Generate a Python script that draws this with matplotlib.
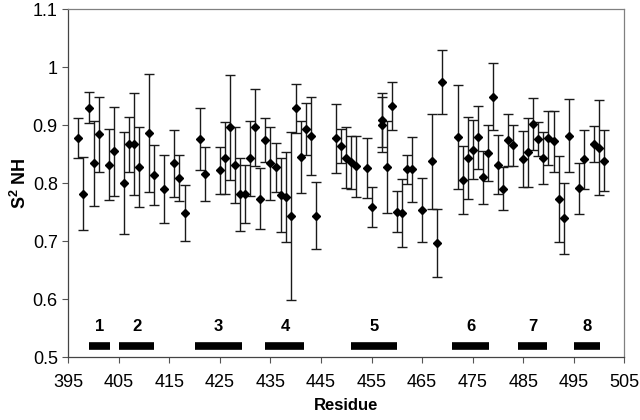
import numpy as np
import matplotlib
matplotlib.use("Agg")
import matplotlib.pyplot as plt

plt.rcParams['font.family'] = ['Liberation Sans', 'DejaVu Sans']
plt.rcParams['mathtext.fontset'] = 'custom'
plt.rcParams['mathtext.bf'] = 'Liberation Sans:bold'
plt.rcParams['mathtext.rm'] = 'Liberation Sans'

# residue numbers, S2 values and error half-widths
residue = [397, 398, 399, 400, 401, 403, 404, 406, 407, 408, 409, 411, 412, 414,
           416, 417, 418, 421, 422, 425, 426, 427, 428, 429, 430, 431, 432, 433,
           434, 435, 436, 437, 438, 439, 440, 441, 442, 443, 444, 448, 449, 450,
           451, 452, 454, 455, 457, 457, 458, 459, 460, 461, 462, 463, 465, 467,
           468, 469, 472, 473, 474, 475, 476, 477, 478, 479, 480, 481, 482, 483,
           485, 486, 487, 488, 489, 490, 491, 492, 493, 494, 496, 497, 499, 500,
           501]
s2 = [0.878, 0.782, 0.930, 0.834, 0.884, 0.832, 0.855, 0.801, 0.867, 0.867,
      0.828, 0.887, 0.814, 0.790, 0.834, 0.809, 0.749, 0.876, 0.816, 0.822,
      0.844, 0.896, 0.831, 0.781, 0.781, 0.843, 0.896, 0.773, 0.874, 0.834,
      0.827, 0.779, 0.776, 0.743, 0.929, 0.845, 0.893, 0.881, 0.744, 0.877,
      0.864, 0.844, 0.836, 0.829, 0.826, 0.759, 0.909, 0.901, 0.828, 0.933,
      0.751, 0.748, 0.824, 0.824, 0.754, 0.838, 0.697, 0.975, 0.879, 0.805,
      0.843, 0.858, 0.879, 0.810, 0.852, 0.949, 0.832, 0.790, 0.875, 0.865,
      0.842, 0.853, 0.902, 0.876, 0.843, 0.878, 0.872, 0.773, 0.739, 0.882,
      0.791, 0.841, 0.867, 0.861, 0.839]
err = [0.035, 0.063, 0.027, 0.073, 0.065, 0.061, 0.077, 0.088, 0.047, 0.088,
       0.069, 0.102, 0.052, 0.059, 0.058, 0.040, 0.048, 0.054, 0.047, 0.041,
       0.062, 0.090, 0.065, 0.063, 0.050, 0.065, 0.067, 0.053, 0.038, 0.063,
       0.043, 0.064, 0.077, 0.145, 0.042, 0.062, 0.045, 0.067, 0.058, 0.059,
       0.029, 0.052, 0.046, 0.053, 0.051, 0.034, 0.047, 0.047, 0.080, 0.042,
       0.036, 0.059, 0.025, 0.056, 0.055, 0.082, 0.059, 0.055, 0.090, 0.059,
       0.071, 0.051, 0.054, 0.046, 0.048, 0.058, 0.051, 0.037, 0.045, 0.035,
       0.048, 0.060, 0.044, 0.030, 0.045, 0.047, 0.052, 0.074, 0.061, 0.063,
       0.044, 0.051, 0.031, 0.082, 0.053]

# secondary structure segments (start, end residue) and labels
seg_start = [399, 405, 420, 434, 451, 471, 484, 495]
seg_end = [403.3, 412, 429.3, 441.7, 460, 478.3, 489.8, 500.1]
seg_label = ['1', '2', '3', '4', '5', '6', '7', '8']
seg_y = 0.519
label_y = 0.553

fig = plt.figure(figsize=(6.4, 4.2), dpi=100)
ax = fig.add_axes([0.1067, 0.15, 0.8688, 0.828])

ax.errorbar(residue, s2, yerr=err, fmt='D', color='black', ms=4.2,
            ecolor='#1a1a1a', elinewidth=1.0, capsize=3.4, capthick=1.0)

for x0, x1, lab in zip(seg_start, seg_end, seg_label):
    ax.plot([x0, x1], [seg_y, seg_y], color='black', lw=5.5, solid_capstyle='butt')
    ax.text((x0 + x1) / 2, label_y, lab, ha='center', va='center',
            fontsize=12, fontweight='bold')

ax.set_xlim(395, 505)
ax.set_ylim(0.5, 1.1)
ax.set_xticks(np.arange(395, 506, 10))
ax.set_yticks([0.5, 0.6, 0.7, 0.8, 0.9, 1.0, 1.1])
ax.set_yticklabels(['0.5', '0.6', '0.7', '0.8', '0.9', '1', '1.1'])
ax.tick_params(labelsize=13, direction='out', length=4, width=0.8, color='#555555')
ax.tick_params(axis='x', pad=8)

for s in ax.spines.values():
    s.set_color('#808080')
    s.set_linewidth(0.9)
ax.spines['left'].set_color('#444444')
ax.spines['bottom'].set_color('#444444')

ax.set_xlabel('Residue', fontsize=12, fontweight='bold', labelpad=5)
ax.set_ylabel(r'$\mathbf{S^{2}}$ NH', fontsize=13, fontweight='bold', labelpad=2)

fig.savefig('out.png', dpi=100)
